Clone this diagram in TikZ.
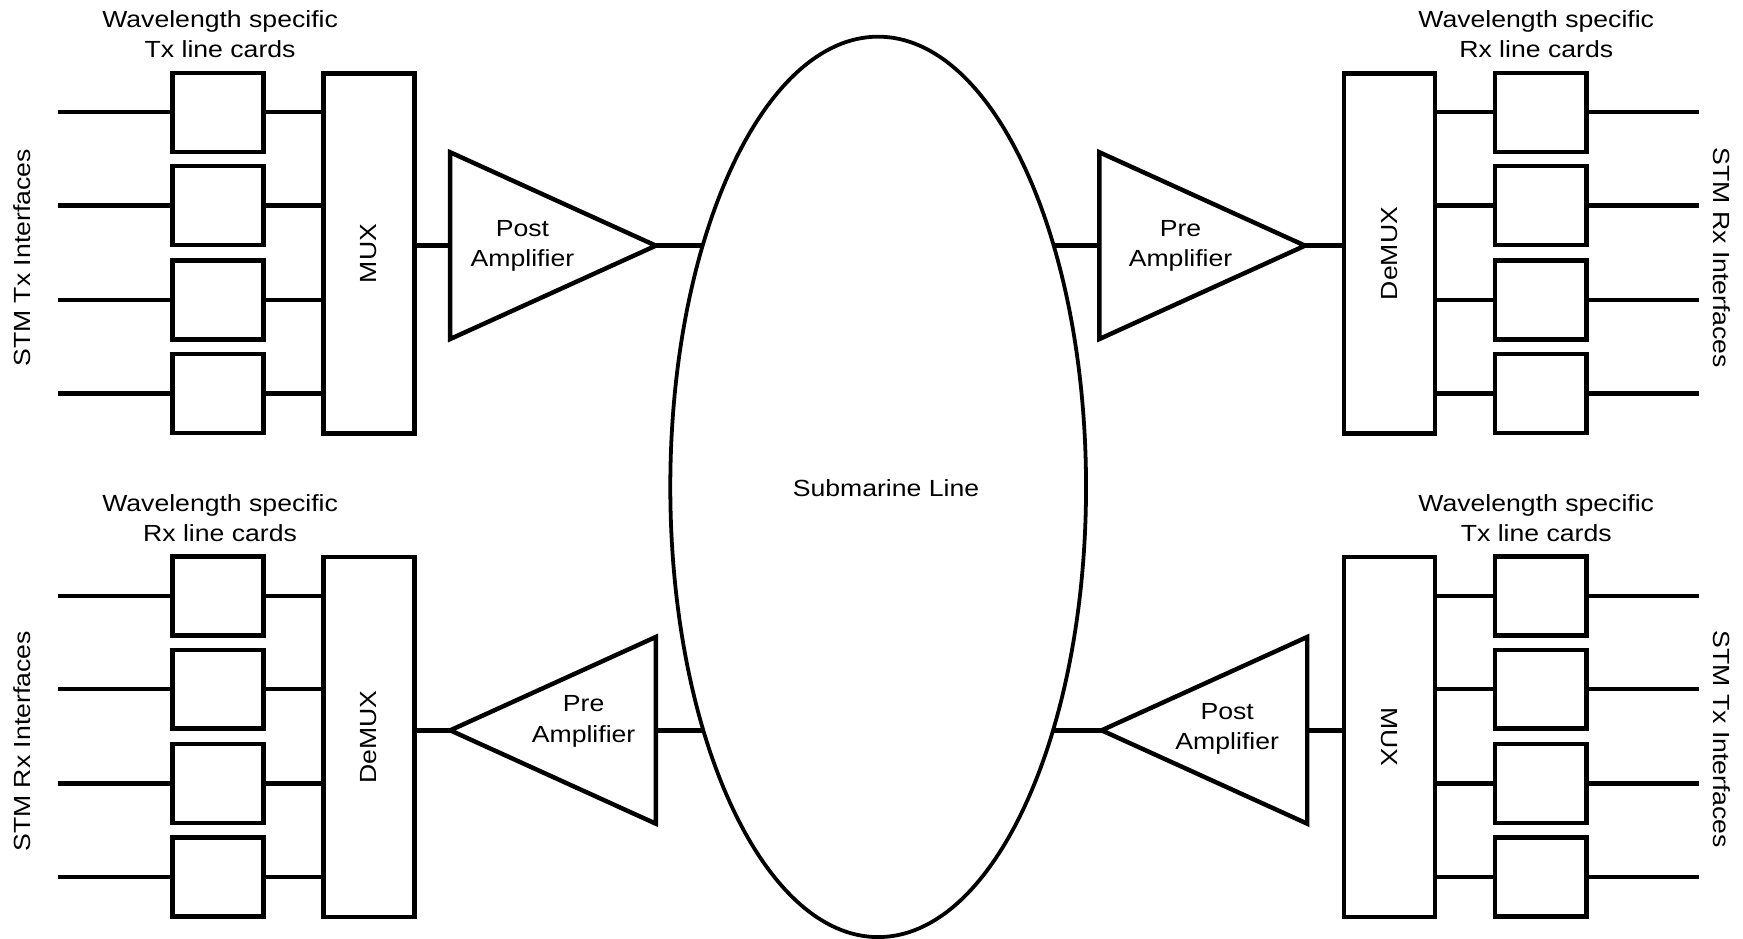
\documentclass[tikz,border=0pt]{standalone}
\usepackage{fontspec}
\setmainfont{Liberation Sans}[FakeStretch=1.14]
\usetikzlibrary{shapes.geometric}
\begin{document}
\begin{tikzpicture}[x=0.5pt,y=-0.5pt,
  card/.style={draw,line width=2pt,minimum width=41pt,minimum height=35.5pt,inner sep=0pt,outer sep=0pt},
  muxbox/.style={draw,line width=2pt,minimum width=41pt,minimum height=162pt,inner sep=0pt,outer sep=0pt},
  amp/.style={draw,line width=2pt,isosceles triangle,isosceles triangle stretches,minimum height=92.5pt,minimum width=84pt,inner sep=0pt,outer sep=0pt},
  wire/.style={line width=2pt},
  lbl/.style={font=\fontsize{10.5}{13.6}\selectfont,align=center,inner sep=0pt}
]
\useasboundingbox (0,0) rectangle (1568,844);

% Submarine line
\node[draw,ellipse,line width=1.7pt,minimum width=187pt,minimum height=405pt,inner sep=0pt,outer sep=0pt] (sub) at (790,438) {};
\node[lbl] at (797,439) {Submarine Line};

% ---------- top left (Tx) ----------
\node[lbl] at (198,31) {Wavelength specific\\Tx line cards};
\node[muxbox] (tlmux) at (332,228) {};
\node[lbl,rotate=90] at (tlmux) {MUX};
\foreach \i/\y in {1/101,2/185,3/270,4/354}{
  \node[card] (tl\i) at (196,\y) {};
  \coordinate (tlin\i) at (52,\y);
  \draw[wire] (tlin\i) -- (tl\i.west);
  \draw[wire] (tl\i.east) -- (tl\i.east -| tlmux.west);
}
\node[amp,anchor=apex] (tlamp) at (590,221) {};
\node[lbl] at (470,221) {Post\\Amplifier};
\draw[wire] (tlamp.lower side -| tlmux.east) -- (tlamp.lower side);
\draw[wire] (tlamp.apex) -- (tlamp.apex -| sub.126);
\node[lbl,rotate=90] at (20,232) {STM Tx Interfaces};

% ---------- top right (Rx) ----------
\node[lbl] at (1382,31) {Wavelength specific\\Rx line cards};
\node[muxbox] (trmux) at (1250,228) {};
\node[lbl,rotate=90] at (trmux) {DeMUX};
\foreach \i/\y in {1/101,2/185,3/270,4/354}{
  \node[card] (tr\i) at (1386,\y) {};
  \coordinate (trout\i) at (1528,\y);
  \draw[wire] (tr\i.west -| trmux.east) -- (tr\i.west);
  \draw[wire] (tr\i.east) -- (trout\i);
}
\node[amp,anchor=apex] (tramp) at (1174,221) {};
\node[lbl] at (1062,221) {Pre\\Amplifier};
\draw[wire] (tramp.lower side -| sub.54) -- (tramp.lower side);
\draw[wire] (tramp.apex) -- (tramp.apex -| trmux.west);
\node[lbl,rotate=-90] at (1549,232) {STM Rx Interfaces};

% ---------- bottom left (Rx) ----------
\node[lbl] at (198,466) {Wavelength specific\\Rx line cards};
\node[muxbox] (blmux) at (332,663) {};
\node[lbl,rotate=90] at (blmux) {DeMUX};
\foreach \i/\y in {1/536,2/620,3/705,4/789}{
  \node[card] (bl\i) at (196,\y) {};
  \coordinate (blout\i) at (52,\y);
  \draw[wire] (blout\i) -- (bl\i.west);
  \draw[wire] (bl\i.east) -- (bl\i.east -| blmux.west);
}
\node[amp,shape border rotate=180,anchor=apex] (blamp) at (405,657) {};
\node[lbl] at (525,649) {Pre\\Amplifier};
\draw[wire] (blamp.apex -| blmux.east) -- (blamp.apex);
\draw[wire] (blamp.lower side) -- (blamp.lower side -| sub.234);
\node[lbl,rotate=90] at (20,667) {STM Rx Interfaces};

% ---------- bottom right (Tx) ----------
\node[lbl] at (1382,466) {Wavelength specific\\Tx line cards};
\node[muxbox] (brmux) at (1250,663) {};
\node[lbl,rotate=-90] at (brmux) {MUX};
\foreach \i/\y in {1/536,2/620,3/705,4/789}{
  \node[card] (br\i) at (1386,\y) {};
  \coordinate (brin\i) at (1528,\y);
  \draw[wire] (br\i.west -| brmux.east) -- (br\i.west);
  \draw[wire] (br\i.east) -- (brin\i);
}
\node[amp,shape border rotate=180,anchor=apex] (bramp) at (991,657) {};
\node[lbl] at (1104,656) {Post\\Amplifier};
\draw[wire] (bramp.apex -| sub.306) -- (bramp.apex);
\draw[wire] (bramp.lower side) -- (bramp.lower side -| brmux.west);
\node[lbl,rotate=-90] at (1549,665) {STM Tx Interfaces};
\end{tikzpicture}
\end{document}
